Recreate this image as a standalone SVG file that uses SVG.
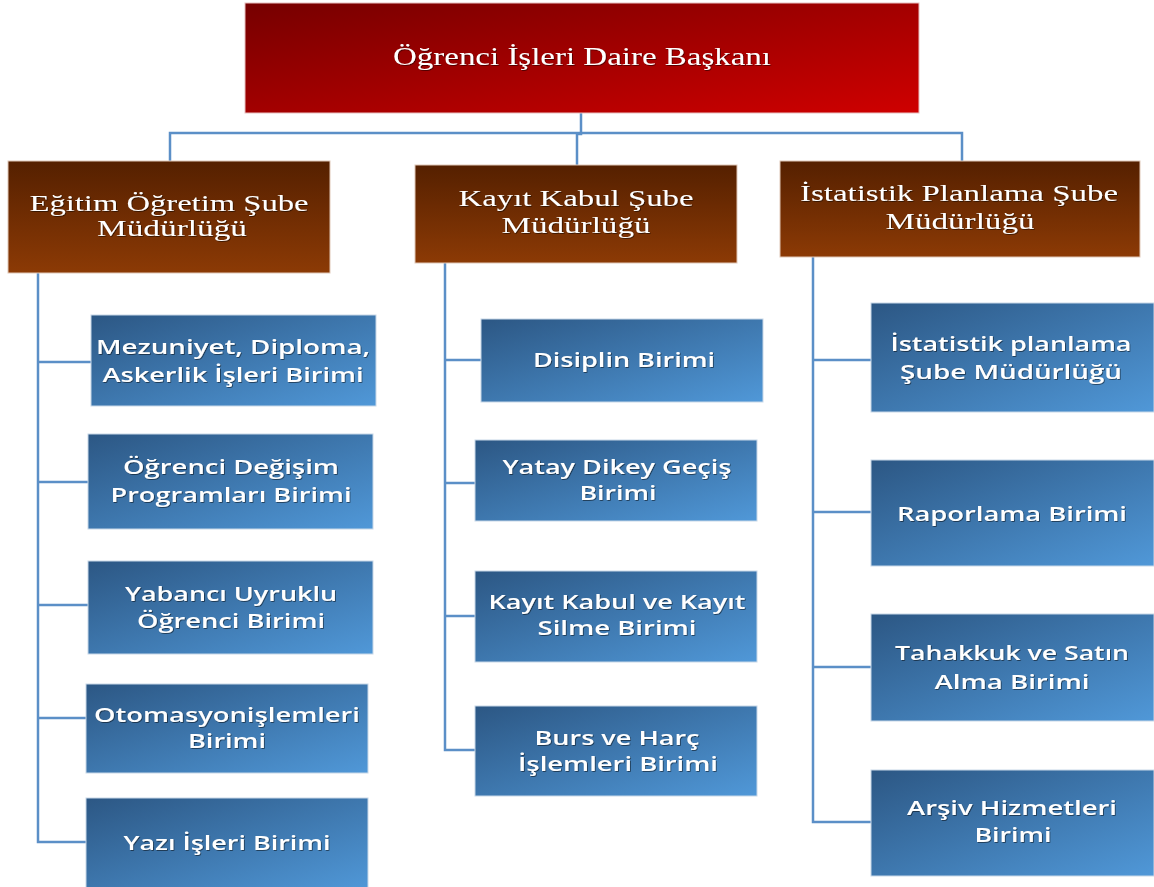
<svg xmlns="http://www.w3.org/2000/svg" width="1154" height="887" viewBox="0 0 1154 887">
<defs>
<linearGradient id="gRed" x1="0" y1="0" x2="1" y2="1"><stop offset="0" stop-color="#760000"/><stop offset="1" stop-color="#cf0000"/></linearGradient>
<linearGradient id="gBrown" x1="0" y1="0" x2="0" y2="1"><stop offset="0" stop-color="#552000"/><stop offset="1" stop-color="#8c3a05"/></linearGradient>
<linearGradient id="gBlue" x1="0" y1="0" x2="1" y2="1"><stop offset="0" stop-color="#2c5784"/><stop offset="1" stop-color="#5098d8"/></linearGradient>
<filter id="sh" x="-10%" y="-30%" width="120%" height="160%"><feDropShadow dx="0.8" dy="0.8" stdDeviation="0.7" flood-color="#000" flood-opacity="0.6"/></filter>
<style>
.red{fill:url(#gRed);stroke:#e8c0c0;stroke-width:1}
.brown{fill:url(#gBrown);stroke:#e0c8b8;stroke-width:1}
.blue{fill:url(#gBlue);stroke:#c8d8e8;stroke-width:1}
.ts{font-family:"Liberation Serif","Times New Roman",serif;fill:#fff;text-anchor:middle;filter:url(#sh)}
.tt{font-size:25px}
.tm{font-size:23px}
.tb{font-family:"Open Sans","Liberation Sans",sans-serif;font-weight:600;font-size:20px;fill:#fff;text-anchor:middle;filter:url(#sh)}
.con{fill:none;stroke:#5b8fc7;stroke-width:2.5}
</style>
</defs>
<g id="connectors" class="con">
<path d="M581 113 V134 H577 V165"/>
<path d="M170 161 V133 H962 V161"/>
<path d="M38 273 V842 H86 M38 362 H91 M38 482 H88 M38 605 H88 M38 718 H86"/>
<path d="M445 263 V750 H475 M445 360 H481 M445 483 H475 M445 616 H475"/>
<path d="M813 257 V822 H871 M813 360 H871 M813 512 H871 M813 667 H871"/>
</g>
<g id="top"><rect class="red" x="245" y="3" width="674" height="110"/>
<text class="ts tt" x="582" y="65" textLength="378" lengthAdjust="spacingAndGlyphs">Öğrenci İşleri Daire Başkanı</text></g>
<g id="egitim"><rect class="brown" x="8" y="161" width="322" height="112"/>
<text class="ts tm" x="169" y="211" textLength="279" lengthAdjust="spacingAndGlyphs">Eğitim Öğretim Şube</text>
<text class="ts tm" x="172" y="236" textLength="150" lengthAdjust="spacingAndGlyphs">Müdürlüğü</text></g>
<g id="kayit"><rect class="brown" x="415" y="165" width="322" height="98"/>
<text class="ts tm" x="576" y="206" textLength="235" lengthAdjust="spacingAndGlyphs">Kayıt Kabul Şube</text>
<text class="ts tm" x="576" y="233" textLength="149" lengthAdjust="spacingAndGlyphs">Müdürlüğü</text></g>
<g id="istatistik"><rect class="brown" x="780" y="161" width="360" height="96"/>
<text class="ts tm" x="959" y="201" textLength="318" lengthAdjust="spacingAndGlyphs">İstatistik Planlama Şube</text>
<text class="ts tm" x="960" y="229" textLength="149" lengthAdjust="spacingAndGlyphs">Müdürlüğü</text></g>
<g id="b1"><rect class="blue" x="91" y="315" width="285" height="91"/>
<text class="tb" x="233" y="354" textLength="274" lengthAdjust="spacingAndGlyphs">Mezuniyet, Diploma,</text>
<text class="tb" x="233" y="382" textLength="261" lengthAdjust="spacingAndGlyphs">Askerlik İşleri Birimi</text></g>
<g id="b2"><rect class="blue" x="88" y="434" width="285" height="95"/>
<text class="tb" x="231" y="474" textLength="216" lengthAdjust="spacingAndGlyphs">Öğrenci Değişim</text>
<text class="tb" x="231" y="502" textLength="241" lengthAdjust="spacingAndGlyphs">Programları Birimi</text></g>
<g id="b3"><rect class="blue" x="88" y="561" width="285" height="93"/>
<text class="tb" x="231" y="601" textLength="212" lengthAdjust="spacingAndGlyphs">Yabancı Uyruklu</text>
<text class="tb" x="231" y="628" textLength="188" lengthAdjust="spacingAndGlyphs">Öğrenci Birimi</text></g>
<g id="b4"><rect class="blue" x="86" y="684" width="282" height="89"/>
<text class="tb" x="227" y="722" textLength="266" lengthAdjust="spacingAndGlyphs">Otomasyonişlemleri</text>
<text class="tb" x="227" y="748" textLength="78" lengthAdjust="spacingAndGlyphs">Birimi</text></g>
<g id="b5"><rect class="blue" x="86" y="798" width="282" height="92"/>
<text class="tb" x="227" y="850" textLength="207" lengthAdjust="spacingAndGlyphs">Yazı İşleri Birimi</text></g>
<g id="m1"><rect class="blue" x="481" y="319" width="282" height="83"/>
<text class="tb" x="624" y="367" textLength="182" lengthAdjust="spacingAndGlyphs">Disiplin Birimi</text></g>
<g id="m2"><rect class="blue" x="475" y="440" width="282" height="81"/>
<text class="tb" x="617" y="474" textLength="229" lengthAdjust="spacingAndGlyphs">Yatay Dikey Geçiş</text>
<text class="tb" x="618" y="500" textLength="77" lengthAdjust="spacingAndGlyphs">Birimi</text></g>
<g id="m3"><rect class="blue" x="475" y="571" width="282" height="91"/>
<text class="tb" x="617" y="609" textLength="257" lengthAdjust="spacingAndGlyphs">Kayıt Kabul ve Kayıt</text>
<text class="tb" x="617" y="635" textLength="159" lengthAdjust="spacingAndGlyphs">Silme Birimi</text></g>
<g id="m4"><rect class="blue" x="475" y="706" width="282" height="90"/>
<text class="tb" x="617" y="745" textLength="165" lengthAdjust="spacingAndGlyphs">Burs ve Harç</text>
<text class="tb" x="618" y="771" textLength="200" lengthAdjust="spacingAndGlyphs">İşlemleri Birimi</text></g>
<g id="r1"><rect class="blue" x="871" y="303" width="283" height="109"/>
<text class="tb" x="1011" y="351" textLength="241" lengthAdjust="spacingAndGlyphs">İstatistik planlama</text>
<text class="tb" x="1011" y="379" textLength="222" lengthAdjust="spacingAndGlyphs">Şube Müdürlüğü</text></g>
<g id="r2"><rect class="blue" x="871" y="460" width="283" height="106"/>
<text class="tb" x="1012" y="521" textLength="230" lengthAdjust="spacingAndGlyphs">Raporlama Birimi</text></g>
<g id="r3"><rect class="blue" x="871" y="614" width="283" height="107"/>
<text class="tb" x="1012" y="660" textLength="234" lengthAdjust="spacingAndGlyphs">Tahakkuk ve Satın</text>
<text class="tb" x="1012" y="689" textLength="155" lengthAdjust="spacingAndGlyphs">Alma Birimi</text></g>
<g id="r4"><rect class="blue" x="871" y="770" width="283" height="106"/>
<text class="tb" x="1012" y="815" textLength="210" lengthAdjust="spacingAndGlyphs">Arşiv Hizmetleri</text>
<text class="tb" x="1013" y="842" textLength="77" lengthAdjust="spacingAndGlyphs">Birimi</text></g>
</svg>
